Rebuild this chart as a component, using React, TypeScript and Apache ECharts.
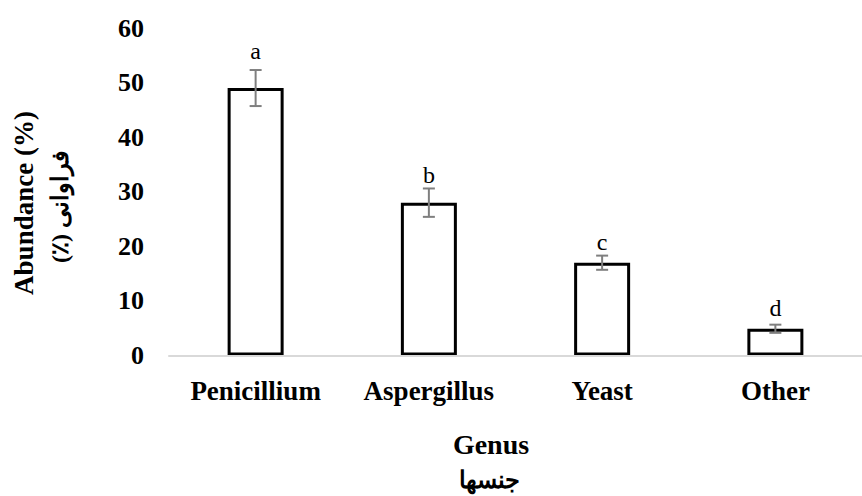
import React, { useEffect, useRef } from "react";
import * as echarts from "echarts";

const categories = ["Penicillium", "Aspergillus", "Yeast", "Other"];
const abundance = [49, 28, 17, 4.9];
const errors = [3.3, 2.6, 1.3, 0.75];
const letters = ["a", "b", "c", "d"];
const letterHeights = [55.8, 33.1, 20.8, 8.7];

const SERIF = "'Liberation Serif', 'Times New Roman', 'DejaVu Serif', serif";

export default function App() {
  const ref = useRef<HTMLDivElement>(null);
  useEffect(() => {
    const chart = echarts.init(ref.current!, null, { renderer: "svg" });
    const errData = categories.map((_, i) => [i, abundance[i], errors[i], letterHeights[i]]);
    chart.setOption({
      animation: false,
      backgroundColor: "#ffffff",
      grid: { left: 169, top: 28, width: 704, height: 327.5 },
      xAxis: {
        type: "category",
        data: categories,
        z: 10,
        axisLine: { lineStyle: { color: "#d9d9d9", width: 2 } },
        axisTick: { show: false },
        axisLabel: {
          color: "#000",
          fontFamily: SERIF,
          fontWeight: "bold",
          fontSize: 27,
          margin: 22,
        },
      },
      yAxis: {
        type: "value",
        min: 0,
        max: 60,
        interval: 10,
        splitLine: { show: false },
        axisLine: { show: false },
        axisTick: { show: false },
        axisLabel: {
          color: "#000",
          fontFamily: SERIF,
          fontWeight: "bold",
          fontSize: 26,
          margin: 25,
        },
      },
      series: [
        {
          type: "bar",
          data: abundance,
          barWidth: 56,
          itemStyle: { color: "#ffffff", borderColor: "#000000", borderWidth: 3 },
        },
        {
          type: "custom",
          data: errData,
          z: 5,
          renderItem: (params: any, api: any) => {
            const i = api.value(0);
            const v = api.value(1);
            const e = api.value(2);
            const ly = api.value(3);
            const top = api.coord([i, v + e]);
            const bot = api.coord([i, v - e]);
            const lab = api.coord([i, ly]);
            const cap = 6;
            const st = { stroke: "#7f7f7f", lineWidth: 2 };
            return {
              type: "group",
              children: [
                { type: "line", shape: { x1: top[0], y1: top[1], x2: bot[0], y2: bot[1] }, style: st },
                { type: "line", shape: { x1: top[0] - cap, y1: top[1], x2: top[0] + cap, y2: top[1] }, style: st },
                { type: "line", shape: { x1: bot[0] - cap, y1: bot[1], x2: bot[0] + cap, y2: bot[1] }, style: st },
                {
                  type: "text",
                  x: lab[0],
                  y: lab[1],
                  style: {
                    text: letters[params.dataIndex],
                    fontFamily: SERIF,
                    fontSize: 24,
                    fill: "#000",
                    align: "center",
                    verticalAlign: "middle",
                  },
                },
              ],
            };
          },
        },
      ],
      graphic: [
        {
          type: "text",
          x: 24,
          y: 203,
          rotation: Math.PI / 2,
          style: {
            text: "Abundance (%)",
            fontFamily: SERIF,
            fontWeight: "bold",
            fontSize: 27,
            fill: "#000",
            align: "center",
            verticalAlign: "middle",
          },
        },
        {
          type: "text",
          x: 60,
          y: 207,
          rotation: Math.PI / 2,
          style: {
            text: "(٪) فراوانی",
            fontFamily: SERIF,
            fontWeight: "bold",
            fontSize: 24,
            fill: "#000",
            align: "center",
            verticalAlign: "middle",
          },
        },
        {
          type: "text",
          x: 491,
          y: 444,
          style: {
            text: "Genus",
            fontFamily: SERIF,
            fontWeight: "bold",
            fontSize: 28,
            fill: "#000",
            align: "center",
            verticalAlign: "middle",
          },
        },
        {
          type: "text",
          x: 489,
          y: 480,
          style: {
            text: "جنسها",
            fontFamily: SERIF,
            fontWeight: "bold",
            fontSize: 24,
            fill: "#000",
            align: "center",
            verticalAlign: "middle",
          },
        },
      ],
    });
    return () => chart.dispose();
  }, []);
  return (
    <div
      ref={ref}
      style={{ position: "absolute", left: 0, top: 0, width: 862, height: 496 }}
    />
  );
}
